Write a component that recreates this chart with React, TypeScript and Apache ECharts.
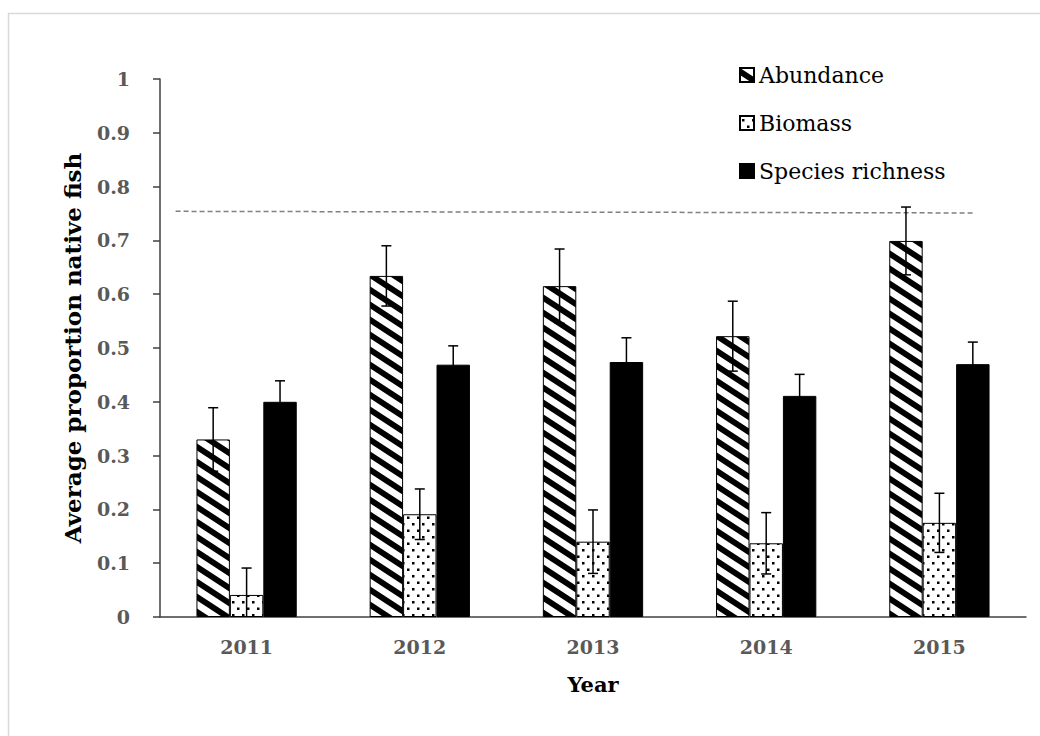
import React, { useEffect, useRef } from "react";
import * as echarts from "echarts";

const years = ["2011", "2012", "2013", "2014", "2015"];
const seriesNames = ["Abundance", "Biomass", "Species richness"];
const abundance = [0.33, 0.634, 0.615, 0.522, 0.699];
const abundanceErr = [0.059, 0.056, 0.069, 0.065, 0.063];
const biomass = [0.041, 0.191, 0.14, 0.137, 0.175];
const biomassErr = [0.05, 0.047, 0.059, 0.057, 0.055];
const richness = [0.4, 0.469, 0.474, 0.411, 0.47];
const richnessErr = [0.039, 0.035, 0.045, 0.04, 0.041];
const yTicks = [0, 0.1, 0.2, 0.3, 0.4, 0.5, 0.6, 0.7, 0.8, 0.9, 1];
// reference (dashed) line: [x position in category units, value]
const refLine = [
  [0.09, 0.754],
  [4.7, 0.751],
];

const FONT = "DejaVu Serif";
const BAR_FRAC = 0.193;

function stripePattern() {
  const W = 23, H = 15, t = 7;
  const c = document.createElement("canvas");
  c.width = W;
  c.height = H;
  const ctx = c.getContext("2d")!;
  ctx.fillStyle = "#fff";
  ctx.fillRect(0, 0, W, H);
  ctx.fillStyle = "#000";
  for (const k of [-1, 0, 1]) {
    const o = k * H;
    ctx.beginPath();
    ctx.moveTo(0, o);
    ctx.lineTo(W, H + o);
    ctx.lineTo(W, H + t + o);
    ctx.lineTo(0, t + o);
    ctx.closePath();
    ctx.fill();
  }
  return { image: c, repeat: "repeat", imageWidth: W, imageHeight: H };
}

function dotPattern() {
  const W = 10, H = 13;
  const c = document.createElement("canvas");
  c.width = W;
  c.height = H;
  const ctx = c.getContext("2d")!;
  ctx.fillStyle = "#fff";
  ctx.fillRect(0, 0, W, H);
  ctx.fillStyle = "#000";
  ctx.fillRect(2, 3, 2.5, 2.5);
  ctx.fillRect(7, 9.5, 2.5, 2.5);
  return { image: c, repeat: "repeat", imageWidth: W, imageHeight: H };
}

export default function App() {
  const ref = useRef<HTMLDivElement>(null);
  useEffect(() => {
    if (!ref.current) return;
    const chart = echarts.init(ref.current, null, { renderer: "svg" });
    const values = [abundance, biomass, richness];
    const errs = [abundanceErr, biomassErr, richnessErr];
    const errData: number[][] = [];
    values.forEach((arr, s) => {
      arr.forEach((v, i) => {
        errData.push([i, s, v - errs[s][i], v + errs[s][i]]);
      });
    });
    const fills: any[] = [stripePattern(), dotPattern(), "#000"];

    const option: any = {
      animation: false,
      backgroundColor: "#fff",
      textStyle: { fontFamily: FONT },
      graphic: [
        {
          type: "rect",
          shape: { x: 8.5, y: 13.5, width: 1100, height: 900 },
          style: { fill: "none", stroke: "#d9d9d9", lineWidth: 1.5 },
          silent: true,
          z: -10,
        },
      ],
      grid: { left: 160, right: 14, top: 79, bottom: 119, containLabel: false },
      legend: {
        orient: "vertical",
        left: 734,
        top: 58,
        itemWidth: 14,
        itemHeight: 14,
        itemGap: 24,
        icon: "rect",
        data: seriesNames,
        textStyle: {
          fontFamily: FONT,
          fontSize: 22,
          color: "#000",
          lineHeight: 24,
        },
      },
      xAxis: [
        {
          type: "category",
          data: years,
          name: "Year",
          nameLocation: "middle",
          nameGap: 57,
          nameTextStyle: {
            fontFamily: FONT,
            fontWeight: "bold",
            fontSize: 21,
            color: "#000",
          },
          axisLine: { lineStyle: { color: "#404040", width: 1.5 } },
          axisTick: { show: false },
          axisLabel: {
            fontFamily: FONT,
            fontWeight: "bold",
            fontSize: 19,
            color: "#595959",
            margin: 20,
          },
        },
        {
          type: "value",
          min: 0,
          max: 5,
          show: false,
        },
      ],
      yAxis: {
        type: "value",
        min: 0,
        max: 1,
        interval: 0.1,
        name: "Average proportion native fish",
        nameLocation: "middle",
        nameGap: 76,
        nameTextStyle: {
          fontFamily: FONT,
          fontWeight: "bold",
          fontSize: 23,
          color: "#000",
        },
        splitLine: { show: false },
        axisLine: { show: true, lineStyle: { color: "#404040", width: 1.5 } },
        axisTick: {
          show: true,
          length: 7,
          lineStyle: { color: "#404040", width: 1.5 },
        },
        axisLabel: {
          fontFamily: FONT,
          fontWeight: "bold",
          fontSize: 19,
          color: "#595959",
          margin: 30,
          formatter: (v: number) => {
            const t = yTicks.find((x) => Math.abs(x - v) < 1e-6);
            const val = t === undefined ? v : t;
            return val === 0 || val === 1 ? String(val) : val.toFixed(1);
          },
        },
      },
      series: [
        ...values.map((arr, s) => ({
          name: seriesNames[s],
          type: "bar",
          data: arr,
          barWidth: (BAR_FRAC * 100).toFixed(1) + "%",
          barGap: "0%",
          itemStyle: {
            color: fills[s],
            borderColor: "#000",
            borderWidth: 1,
          },
        })),
        {
          type: "custom",
          name: "err",
          data: errData,
          z: 10,
          silent: true,
          encode: { x: 0, y: [2, 3] },
          renderItem: (params: any, api: any) => {
            const cat = api.value(0);
            const s = api.value(1);
            const lo = api.value(2);
            const hi = api.value(3);
            const band = api.size([1, 0])[0];
            const off = (s - 1) * band * BAR_FRAC;
            const top = api.coord([cat, hi]);
            const bot = api.coord([cat, Math.max(lo, 0)]);
            const x = top[0] + off;
            const cw = 5;
            const st = { stroke: "#000", lineWidth: 1.5 };
            const children: any[] = [
              { type: "line", shape: { x1: x, y1: top[1], x2: x, y2: bot[1] }, style: st },
              { type: "line", shape: { x1: x - cw, y1: top[1], x2: x + cw, y2: top[1] }, style: st },
            ];
            if (lo >= 0) {
              children.push({
                type: "line",
                shape: { x1: x - cw, y1: bot[1], x2: x + cw, y2: bot[1] },
                style: st,
              });
            }
            return { type: "group", children };
          },
        },
        {
          type: "line",
          name: "ref",
          xAxisIndex: 1,
          yAxisIndex: 0,
          data: refLine,
          showSymbol: false,
          symbol: "none",
          silent: true,
          lineStyle: { color: "#7f7f7f", width: 1.5, type: [5, 3] },
          z: 5,
        },
      ],
    };
    chart.setOption(option);
    return () => chart.dispose();
  }, []);
  return (
    <div
      ref={ref}
      style={{ position: "fixed", left: 0, top: 0, width: 1040, height: 736 }}
    />
  );
}
